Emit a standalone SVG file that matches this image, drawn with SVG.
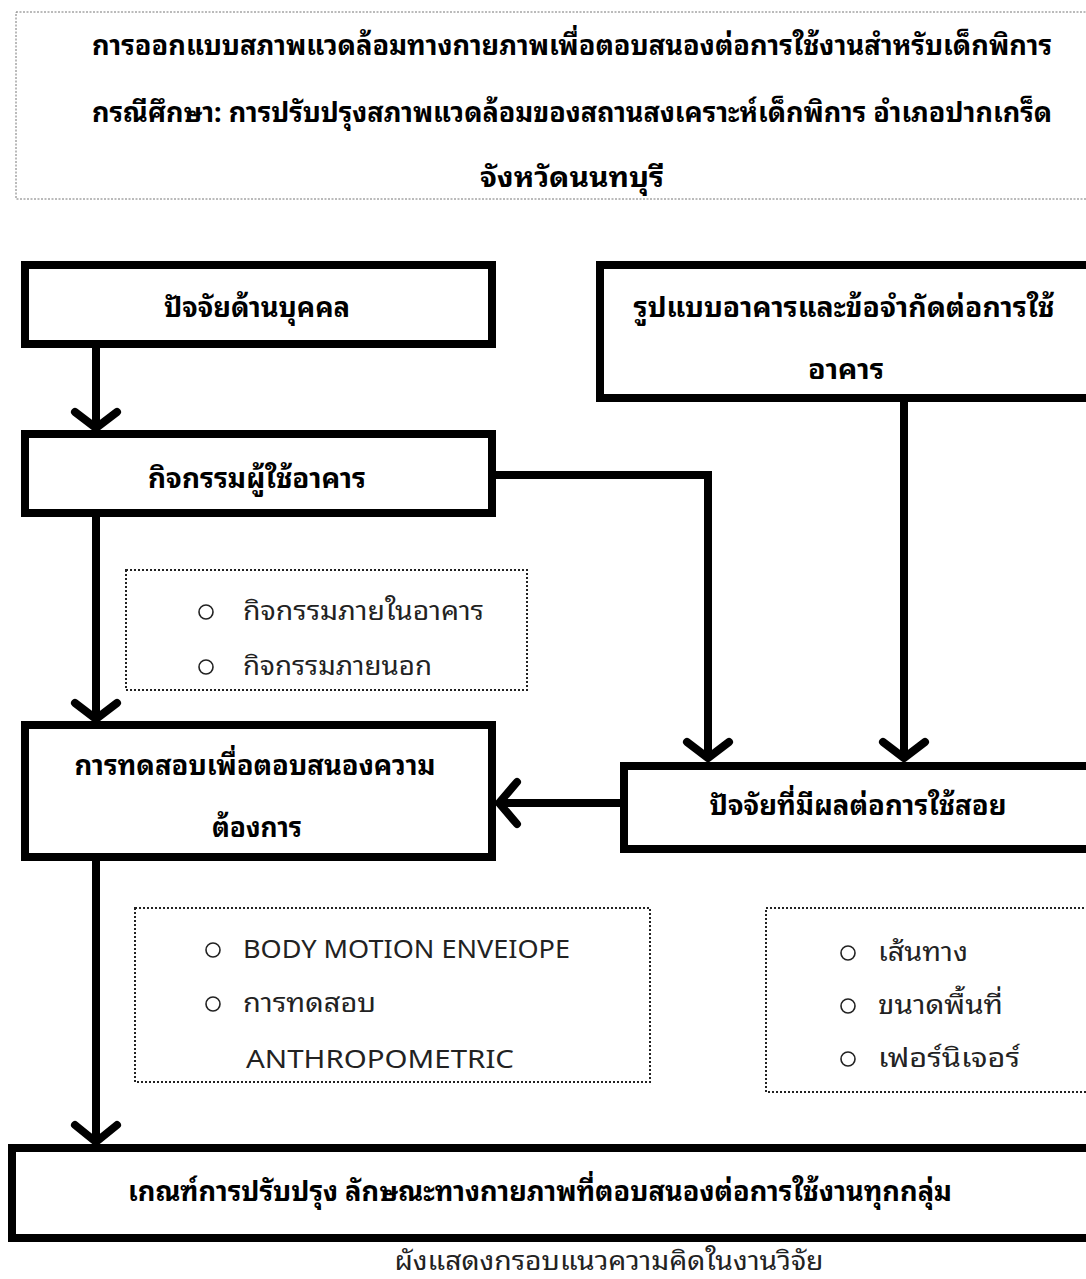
<svg xmlns="http://www.w3.org/2000/svg" width="1086" height="1279" viewBox="0 0 1086 1279">
<style>
.box{fill:#fff;stroke:#000;stroke-width:8}
.dot{fill:none;stroke:#222;stroke-width:2;stroke-dasharray:2 2}
.ttl{fill:none;stroke:#777;stroke-width:1;stroke-dasharray:2 1.5}
.b{font-family:"Noto Sans Thai Looped","Leelawadee UI",Tahoma,Loma,Garuda,"Noto Sans Thai","Noto Sans",sans-serif;font-weight:bold;font-size:27px;fill:#000;text-anchor:middle}
.r{font-family:"Noto Sans Thai Looped","Leelawadee UI",Tahoma,Loma,Garuda,"Noto Sans Thai","Noto Sans",sans-serif;font-size:26px;fill:#222}
.c{font-family:"Noto Sans Thai Looped","Leelawadee UI",Tahoma,Loma,Garuda,"Noto Sans Thai","Noto Sans",sans-serif;font-size:26px;fill:#222;text-anchor:middle}
.bul{fill:none;stroke:#222;stroke-width:1.6}
.ln{fill:none;stroke:#000;stroke-width:8;stroke-linejoin:miter}
.ah{fill:none;stroke:#000;stroke-width:8;stroke-linecap:round;stroke-linejoin:round}
</style>
<rect width="1086" height="1279" fill="#fff"/>
<g id="title">
<rect class="ttl" x="16" y="12" width="1096" height="187"/>
<text class="b" x="572" y="55" textLength="960" lengthAdjust="spacingAndGlyphs">การออกแบบสภาพแวดล้อมทางกายภาพเพื่อตอบสนองต่อการใช้งานสำหรับเด็กพิการ</text>
<text class="b" x="572" y="122" textLength="960" lengthAdjust="spacingAndGlyphs">กรณีศึกษา: การปรับปรุงสภาพแวดล้อมของสถานสงเคราะห์เด็กพิการ อำเภอปากเกร็ด</text>
<text class="b" x="572" y="187" textLength="184" lengthAdjust="spacingAndGlyphs">จังหวัดนนทบุรี</text>
</g>
<g id="connectors">
<path class="ln" d="M96 348V428"/>
<path class="ah" d="M75 412L96 428L117 412"/>
<path class="ln" d="M96 517V719"/>
<path class="ah" d="M75 703L96 719L117 703"/>
<path class="ln" d="M96 861V1142"/>
<path class="ah" d="M75 1125L96 1142L117 1125"/>
<path class="ln" d="M496 475H708V758"/>
<path class="ah" d="M687 742L708 758L729 742"/>
<path class="ln" d="M904 402V758"/>
<path class="ah" d="M883 742L904 758L925 742"/>
<path class="ln" d="M620 803H499"/>
<path class="ah" d="M517 782L499 803L517 824"/>
</g>
<g id="n1">
<rect class="box" x="25" y="265" width="467" height="79"/>
<text class="b" x="257" y="317" textLength="186" lengthAdjust="spacingAndGlyphs">ปัจจัยด้านบุคคล</text>
</g>
<g id="n2">
<rect class="box" x="25" y="434" width="467" height="79"/>
<text class="b" x="257" y="488" textLength="218" lengthAdjust="spacingAndGlyphs">กิจกรรมผู้ใช้อาคาร</text>
</g>
<g id="n3">
<rect class="box" x="600" y="265" width="500" height="133"/>
<text class="b" x="844" y="317" textLength="421" lengthAdjust="spacingAndGlyphs">รูปแบบอาคารและข้อจำกัดต่อการใช้</text>
<text class="b" x="846" y="379" textLength="76" lengthAdjust="spacingAndGlyphs">อาคาร</text>
</g>
<g id="n4">
<rect class="dot" x="126" y="570" width="401" height="120"/>
<circle class="bul" cx="206" cy="612" r="7"/>
<text class="r" x="243" y="620" textLength="241" lengthAdjust="spacingAndGlyphs">กิจกรรมภายในอาคาร</text>
<circle class="bul" cx="206" cy="667" r="7"/>
<text class="r" x="243" y="675" textLength="189" lengthAdjust="spacingAndGlyphs">กิจกรรมภายนอก</text>
</g>
<g id="n5">
<rect class="box" x="25" y="725" width="467" height="132"/>
<text class="b" x="255" y="775" textLength="361" lengthAdjust="spacingAndGlyphs">การทดสอบเพื่อตอบสนองความ</text>
<text class="b" x="257" y="837" textLength="90" lengthAdjust="spacingAndGlyphs">ต้องการ</text>
</g>
<g id="n6">
<rect class="box" x="624" y="766" width="480" height="83"/>
<text class="b" x="858" y="815" textLength="297" lengthAdjust="spacingAndGlyphs">ปัจจัยที่มีผลต่อการใช้สอย</text>
</g>
<g id="n7">
<rect class="dot" x="135" y="908" width="515" height="174"/>
<circle class="bul" cx="213" cy="950" r="7"/>
<text class="r" x="243" y="958" textLength="327" lengthAdjust="spacingAndGlyphs">BODY MOTION ENVEIOPE</text>
<circle class="bul" cx="213" cy="1004" r="7"/>
<text class="r" x="243" y="1012" textLength="133" lengthAdjust="spacingAndGlyphs">การทดสอบ</text>
<text class="r" x="246" y="1068" textLength="268" lengthAdjust="spacingAndGlyphs">ANTHROPOMETRIC</text>
</g>
<g id="n8">
<rect class="dot" x="766" y="908" width="340" height="184"/>
<circle class="bul" cx="848" cy="953" r="7"/>
<text class="r" x="878" y="961" textLength="90" lengthAdjust="spacingAndGlyphs">เส้นทาง</text>
<circle class="bul" cx="848" cy="1006" r="7"/>
<text class="r" x="878" y="1014" textLength="125" lengthAdjust="spacingAndGlyphs">ขนาดพื้นที่</text>
<circle class="bul" cx="848" cy="1059" r="7"/>
<text class="r" x="878" y="1067" textLength="142" lengthAdjust="spacingAndGlyphs">เฟอร์นิเจอร์</text>
</g>
<g id="n9">
<rect class="box" x="12" y="1148" width="1100" height="90"/>
<text class="b" x="540" y="1201" textLength="824" lengthAdjust="spacingAndGlyphs">เกณฑ์การปรับปรุง ลักษณะทางกายภาพที่ตอบสนองต่อการใช้งานทุกกลุ่ม</text>
</g>
<g id="caption">
<text class="c" x="609" y="1270" textLength="429" lengthAdjust="spacingAndGlyphs">ผังแสดงกรอบแนวความคิดในงานวิจัย</text>
</g>
</svg>
